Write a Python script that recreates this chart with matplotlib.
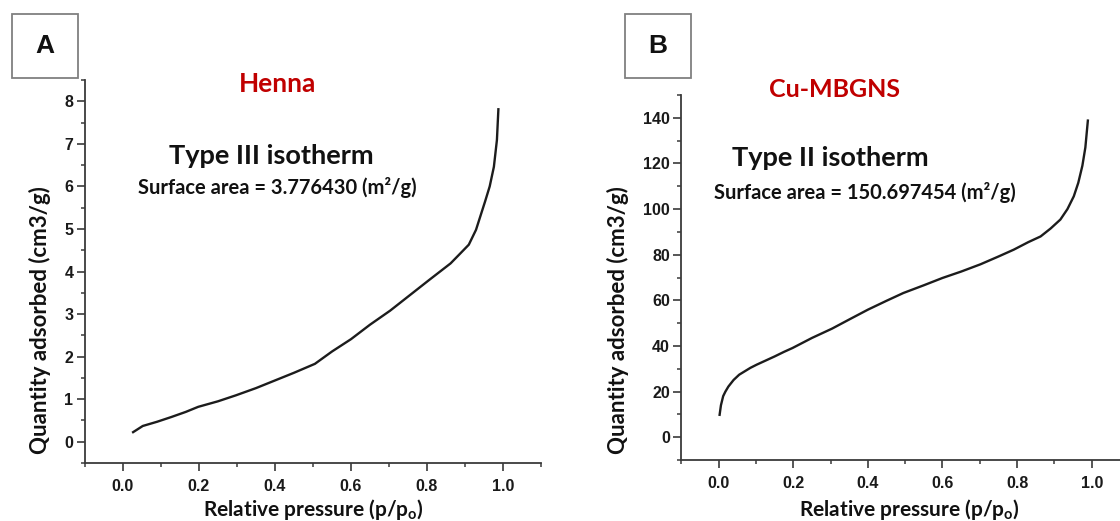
import matplotlib
matplotlib.use("Agg")
import matplotlib.pyplot as plt
from matplotlib.patches import Rectangle
from matplotlib.ticker import MultipleLocator

# N2 adsorption isotherms (relative pressure vs. quantity adsorbed)
henna_p = [0.024, 0.052, 0.090, 0.127, 0.165, 0.198, 0.250, 0.297, 0.350, 0.400,
           0.450, 0.505, 0.550, 0.600, 0.650, 0.703, 0.760, 0.807, 0.862, 0.885,
           0.910, 0.929, 0.953, 0.965, 0.976, 0.984, 0.988]
henna_q = [0.21, 0.37, 0.47, 0.58, 0.70, 0.82, 0.95, 1.09, 1.26, 1.44,
           1.62, 1.83, 2.12, 2.41, 2.75, 3.08, 3.48, 3.81, 4.19, 4.40,
           4.63, 4.98, 5.65, 6.00, 6.46, 7.09, 7.84]

mbgns_p = [0.002, 0.006, 0.012, 0.018, 0.026, 0.040, 0.055, 0.085, 0.102, 0.150,
           0.175, 0.198, 0.250, 0.304, 0.350, 0.400, 0.450, 0.495, 0.550, 0.600,
           0.650, 0.702, 0.750, 0.791, 0.830, 0.863, 0.890, 0.916, 0.935, 0.952,
           0.964, 0.975, 0.983, 0.990]
mbgns_q = [9.3, 14.0, 18.0, 20.0, 22.2, 25.1, 27.4, 30.4, 31.8, 35.4,
           37.4, 39.1, 43.5, 47.6, 51.6, 55.9, 59.8, 63.2, 66.6, 69.8,
           72.6, 75.8, 79.2, 82.2, 85.5, 88.0, 91.5, 95.4, 100.0, 105.6,
           111.5, 119.0, 127.0, 139.3]

x_ticks = [0.0, 0.2, 0.4, 0.6, 0.8, 1.0]
henna_y_ticks = [0, 1, 2, 3, 4, 5, 6, 7, 8]
mbgns_y_ticks = [0, 20, 40, 60, 80, 100, 120, 140]

panel_letters = ["A", "B"]
sample_names = ["Henna", "Cu-MBGNS"]
isotherm_types = ["Type III isotherm", "Type II isotherm"]
surface_areas = ["3.776430", "150.697454"]

W, H = 1120, 521
plt.rcParams["mathtext.fontset"] = "custom"
plt.rcParams["mathtext.rm"] = "Lato:bold"
plt.rcParams["mathtext.it"] = "Lato:bold"
plt.rcParams["mathtext.bf"] = "Lato:bold"

fig = plt.figure(figsize=(W / 100, H / 100), dpi=100)
fig.patch.set_facecolor("white")


def fx(x):
    return x / W


def fy(y):
    return 1 - y / H


def rect(left, top, right, bottom):
    return [fx(left), fy(bottom), fx(right) - fx(left), fy(top) - fy(bottom)]


LABEL_FONT = "Lato"
TICK_FONT = "Liberation Sans"
SPINE_C = "#3a3a3a"
TEXT_C = "#111111"


def style_axes(ax, yticks, ylim, yminor):
    ax.set_xlim(-0.1, 1.1)
    ax.set_ylim(*ylim)
    ax.set_xticks(x_ticks)
    ax.set_xticklabels([f"{v:.1f}" for v in x_ticks])
    ax.set_yticks(yticks)
    ax.set_yticklabels([str(v) for v in yticks])
    ax.xaxis.set_minor_locator(MultipleLocator(0.1))
    ax.yaxis.set_minor_locator(MultipleLocator(yminor))
    for s in ("top", "right"):
        ax.spines[s].set_visible(False)
    for s in ("left", "bottom"):
        ax.spines[s].set_color(SPINE_C)
        ax.spines[s].set_linewidth(1.3)
    ax.tick_params(which="major", direction="out", length=5.8, width=1.2,
                   color=SPINE_C)
    ax.tick_params(which="minor", direction="out", length=3.2, width=1.1,
                   color=SPINE_C)
    ax.tick_params(axis="x", which="major", pad=6)
    ax.tick_params(axis="y", which="major", pad=2.5)
    for lab in ax.get_xticklabels() + ax.get_yticklabels():
        lab.set_fontfamily(TICK_FONT)
        lab.set_fontweight("bold")
        lab.set_fontsize(11.5)
        lab.set_color("#1a1a1a")


# Panel A: Henna
axA = fig.add_axes(rect(85, 80, 541, 463))
axA.plot(henna_p, henna_q, color="#1c1c1c", lw=1.7, solid_capstyle="butt")
style_axes(axA, henna_y_ticks, (-0.5, 8.5), 0.5)

# Panel B: Cu-MBGNS (axis runs past the right edge)
axB = fig.add_axes(rect(681.4, 95, 1129, 460))
axB.plot(mbgns_p, mbgns_q, color="#1c1c1c", lw=1.7, solid_capstyle="butt")
style_axes(axB, mbgns_y_ticks, (-10, 150), 10)

# Panel letter boxes
for (l, t, r, b), letter in zip([(11.5, 14.5, 77.5, 77.5), (624.5, 14.5, 691, 77.5)],
                                panel_letters):
    fig.patches.append(Rectangle((fx(l), fy(b)), fx(r) - fx(l), fy(t) - fy(b),
                                 transform=fig.transFigure, fill=False,
                                 edgecolor="#808080", lw=1.3))
    fig.text(fx((l + r) / 2), fy((t + b) / 2), letter, ha="center", va="center",
             fontsize=19, fontweight="bold", family=TICK_FONT, color=TEXT_C)

# Sample names, isotherm type and surface area (x centre, baseline y)
name_pos = [(278, 92), (835, 97)]
name_size = [19, 18]
type_pos = [(271.5, 164), (830, 166)]
area_pos = [(277, 194), (865, 199)]
for i in range(2):
    fig.text(fx(name_pos[i][0]), fy(name_pos[i][1]), sample_names[i],
             ha="center", va="baseline", fontsize=name_size[i], fontweight="bold",
             family=LABEL_FONT, color="#c00000")
    fig.text(fx(type_pos[i][0]), fy(type_pos[i][1]), isotherm_types[i],
             ha="center", va="baseline", fontsize=19.5, fontweight="bold",
             family=LABEL_FONT, color=TEXT_C)
    fig.text(fx(area_pos[i][0]), fy(area_pos[i][1]),
             f"Surface area = {surface_areas[i]} (m\u00b2/g)",
             ha="center", va="baseline", fontsize=14.5, fontweight="bold",
             family=LABEL_FONT, color=TEXT_C)

# Axis titles
ylab_x = [40, 618]
xlab_x = [313, 909]
for i in range(2):
    fig.text(fx(ylab_x[i]), fy(320), "Quantity adsorbed (cm3/g)",
             rotation=90, ha="center", va="center", fontsize=16,
             fontweight="bold", family=LABEL_FONT, color=TEXT_C)
    fig.text(fx(xlab_x[i]), fy(516), r"Relative pressure (p/p$_\mathregular{o}$)",
             ha="center", va="baseline", fontsize=15, fontweight="bold",
             family=LABEL_FONT, color=TEXT_C)

fig.savefig("out.png", dpi=100, facecolor="white")
